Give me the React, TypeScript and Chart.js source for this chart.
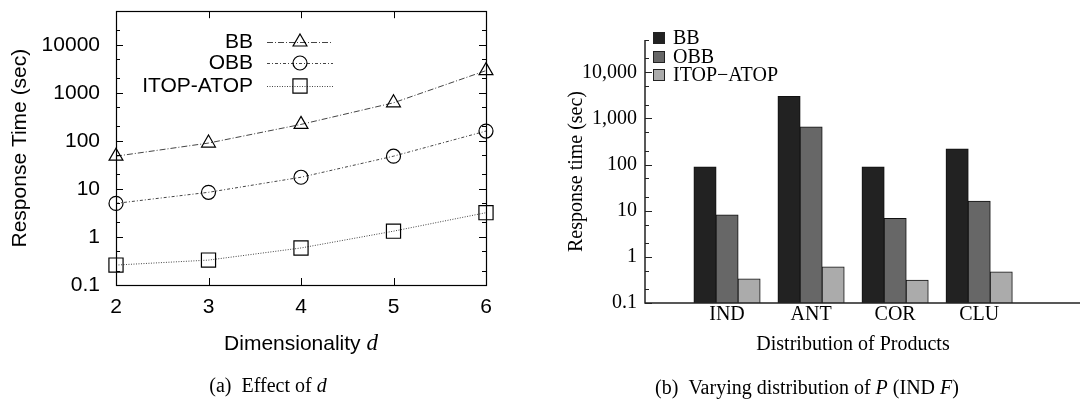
import React, { useEffect, useRef } from 'react';
import { Chart, registerables } from 'chart.js';

Chart.register(...registerables);

// ---------- data ----------
const dims = [2, 3, 4, 5, 6];
const bbTime = [48, 90, 220, 620, 2900];
const obbTime = [5.0, 8.5, 17.5, 48, 160];
const itopTime = [0.26, 0.33, 0.59, 1.32, 3.2];
const lineSeriesNames = ['BB', 'OBB', 'ITOP-ATOP'];

const distributions = ['IND', 'ANT', 'COR', 'CLU'];
const bbDist = [89, 2990, 89, 218];
const obbDist = [8.1, 650, 6.8, 16];
const itopDist = [0.33, 0.6, 0.31, 0.47];
const barSeriesNames = ['BB', 'OBB', 'ITOP\u2212ATOP'];

const yMajorTicks = [0.1, 1, 10, 100, 1000, 10000];
const leftYLabels = ['0.1', '1', '10', '100', '1000', '10000'];
const rightYLabels = ['0.1', '1', '10', '100', '1,000', '10,000'];
const minorMultiples = [2, 5];
const Y_MIN = 0.1;
const Y_MAX = 50000;

const SANS = "'Liberation Sans', Arial, Helvetica, sans-serif";
const SERIF = "'Liberation Serif', 'Times New Roman', Times, serif";

function drawYTicks(ctx: CanvasRenderingContext2D, yScale: any, x: number, dir: number, majorLen: number, minorLen: number) {
  ctx.beginPath();
  for (const v of yMajorTicks) {
    const p = Math.round(yScale.getPixelForValue(v)) + 0.5;
    ctx.moveTo(x, p);
    ctx.lineTo(x + dir * majorLen, p);
    for (const m of minorMultiples) {
      const mv = v * m;
      if (mv <= Y_MAX) {
        const mp = Math.round(yScale.getPixelForValue(mv)) + 0.5;
        ctx.moveTo(x, mp);
        ctx.lineTo(x + dir * minorLen, mp);
      }
    }
  }
  ctx.stroke();
}

function drawMarker(ctx: CanvasRenderingContext2D, style: string, x: number, y: number, r: number) {
  ctx.beginPath();
  if (style === 'triangle') {
    ctx.moveTo(x, y - r);
    ctx.lineTo(x + 0.866 * r, y + 0.5 * r);
    ctx.lineTo(x - 0.866 * r, y + 0.5 * r);
    ctx.closePath();
  } else if (style === 'circle') {
    ctx.arc(x, y, r, 0, Math.PI * 2);
  } else {
    const s = Math.SQRT1_2 * r;
    ctx.rect(x - s, y - s, 2 * s, 2 * s);
  }
  ctx.stroke();
}

const leftFramePlugin = {
  id: 'leftFrame',
  afterDraw(chart: any) {
    const { ctx, chartArea: a, scales } = chart;
    ctx.save();
    ctx.strokeStyle = '#000';
    ctx.lineWidth = 1.2;
    ctx.strokeRect(Math.round(a.left) + 0.5, Math.round(a.top) + 0.5, Math.round(a.right - a.left), Math.round(a.bottom - a.top));
    ctx.lineWidth = 1;
    drawYTicks(ctx, scales.y, a.left, 1, 7, 4);
    drawYTicks(ctx, scales.y, a.right, -1, 7, 4);
    ctx.beginPath();
    for (const d of dims) {
      const px = Math.round(scales.x.getPixelForValue(d)) + 0.5;
      ctx.moveTo(px, a.bottom);
      ctx.lineTo(px, a.bottom - 7);
      ctx.moveTo(px, a.top);
      ctx.lineTo(px, a.top + 7);
    }
    ctx.stroke();

    // legend
    const rows = [42, 63, 86];
    chart.data.datasets.forEach((ds: any, i: number) => {
      const y = rows[i];
      ctx.fillStyle = '#000';
      ctx.font = `21px ${SANS}`;
      ctx.textAlign = 'right';
      ctx.textBaseline = 'middle';
      ctx.fillText(ds.label, 253, y);
      ctx.strokeStyle = ds.borderColor;
      ctx.lineWidth = ds.borderWidth;
      ctx.setLineDash(ds.borderDash);
      ctx.beginPath();
      ctx.moveTo(267, y + 0.5);
      ctx.lineTo(333, y + 0.5);
      ctx.stroke();
      ctx.setLineDash([]);
      ctx.strokeStyle = '#000';
      ctx.lineWidth = ds.pointBorderWidth;
      drawMarker(ctx, ds.pointStyle, 300, y, ds.pointRadius);
    });
    ctx.restore();
  },
};

const rightFramePlugin = {
  id: 'rightFrame',
  afterDraw(chart: any) {
    const { ctx, chartArea: a, scales } = chart;
    ctx.save();
    ctx.strokeStyle = '#222';
    ctx.lineWidth = 1.5;
    ctx.beginPath();
    ctx.moveTo(a.left, a.top);
    ctx.lineTo(a.left, a.bottom);
    ctx.lineTo(a.right, a.bottom);
    ctx.stroke();
    ctx.lineWidth = 1;
    drawYTicks(ctx, scales.y, a.left, 1, 7, 4);

    const rows = [38, 57, 75];
    chart.data.datasets.forEach((ds: any, i: number) => {
      const y = rows[i];
      ctx.fillStyle = ds.backgroundColor;
      ctx.fillRect(113.5, y - 5.5, 11, 11);
      ctx.strokeStyle = '#222';
      ctx.lineWidth = 1;
      ctx.strokeRect(113.5, y - 5.5, 11, 11);
      ctx.fillStyle = '#000';
      ctx.font = `20px ${SERIF}`;
      ctx.textAlign = 'left';
      ctx.textBaseline = 'middle';
      ctx.fillText(ds.label, 133, y + 1);
    });
    ctx.restore();
  },
};

export default function App() {
  const leftRef = useRef<HTMLCanvasElement>(null);
  const rightRef = useRef<HTMLCanvasElement>(null);

  useEffect(() => {
    const lineData = [bbTime, obbTime, itopTime];
    const styles = ['triangle', 'circle', 'rect'];
    const radii = [8, 7, 10];
    const dashes = [[6, 2, 1, 2], [3, 2, 1, 2], [1, 1.5]];

    const left = new Chart(leftRef.current as HTMLCanvasElement, {
      type: 'line',
      data: {
        datasets: lineData.map((vals, k) => ({
          label: lineSeriesNames[k],
          data: dims.map((d, i) => ({ x: d, y: vals[i] })),
          borderColor: '#444',
          borderWidth: 1,
          borderDash: dashes[k],
          pointStyle: styles[k],
          pointRadius: radii[k],
          pointBorderWidth: 1.2,
          pointBorderColor: '#000',
          pointBackgroundColor: 'rgba(0,0,0,0)',
          tension: 0,
          clip: false,
          fill: false,
        })),
      },
      options: {
        animation: false,
        responsive: false,
        events: [],
        layout: { padding: { left: 0, top: 10, right: 54, bottom: 0 } },
        plugins: { legend: { display: false }, tooltip: { enabled: false } },
        scales: {
          x: {
            type: 'linear',
            min: 2,
            max: 6,
            afterBuildTicks: (s: any) => { s.ticks = dims.map((d) => ({ value: d })); },
            afterFit: (s: any) => { s.height = 75; s.paddingLeft = 0; s.paddingRight = 0; },
            grid: { display: false, drawTicks: false },
            border: { display: false },
            ticks: { color: '#000', font: { family: SANS, size: 21 }, padding: 10, autoSkip: false, maxRotation: 0, callback: (v: any) => String(v) },
          },
          y: {
            type: 'logarithmic',
            min: Y_MIN,
            max: Y_MAX,
            afterBuildTicks: (s: any) => { s.ticks = yMajorTicks.map((v) => ({ value: v })); },
            afterFit: (s: any) => { s.width = 116; s.paddingTop = 0; s.paddingBottom = 0; },
            grid: { display: false, drawTicks: false },
            border: { display: false },
            ticks: {
              color: '#000', font: { family: SANS, size: 21 }, padding: 16, autoSkip: false,
              callback: (v: any) => leftYLabels[yMajorTicks.findIndex((t) => Math.abs(t - v) < t * 1e-6)] ?? '',
            },
            title: { display: true, text: 'Response Time (sec)', color: '#000', font: { family: SANS, size: 21 }, padding: { top: 8, bottom: 0 } },
          },
        },
      } as any,
      plugins: [leftFramePlugin],
    });

    const barData = [bbDist, obbDist, itopDist];
    const fills = ['#222222', '#676767', '#ababab'];
    const right = new Chart(rightRef.current as HTMLCanvasElement, {
      type: 'bar',
      data: {
        datasets: barData.map((vals, k) => ({
          label: barSeriesNames[k],
          data: distributions.map((_, i) => ({ x: i, y: vals[i] })),
          backgroundColor: fills[k],
          borderColor: '#111',
          borderWidth: 1,
          borderSkipped: 'bottom',
          inflateAmount: 0.5,
          categoryPercentage: 0.786,
          barPercentage: 1,
        })),
      },
      options: {
        animation: false,
        responsive: false,
        events: [],
        layout: { padding: { left: 0, top: 40, right: 0, bottom: 0 } },
        plugins: { legend: { display: false }, tooltip: { enabled: false } },
        scales: {
          x: {
            type: 'linear',
            offset: false,
            min: -0.976,
            max: 4.2,
            afterBuildTicks: (s: any) => { s.ticks = distributions.map((_, i) => ({ value: i })); },
            afterFit: (s: any) => { s.height = 57; s.paddingLeft = 0; s.paddingRight = 0; },
            grid: { display: false, drawTicks: false, offset: false },
            border: { display: false },
            ticks: { color: '#000', font: { family: SERIF, size: 20 }, padding: 0, autoSkip: false, maxRotation: 0, callback: (v: any) => distributions[Math.round(v)] ?? '' },
          },
          y: {
            type: 'logarithmic',
            min: Y_MIN,
            max: Y_MAX,
            afterBuildTicks: (s: any) => { s.ticks = yMajorTicks.map((v) => ({ value: v })); },
            afterFit: (s: any) => { s.width = 105; s.paddingTop = 0; s.paddingBottom = 0; },
            grid: { display: false, drawTicks: false },
            border: { display: false },
            ticks: {
              color: '#000', font: { family: SERIF, size: 20 }, padding: 8, autoSkip: false,
              callback: (v: any) => rightYLabels[yMajorTicks.findIndex((t) => Math.abs(t - v) < t * 1e-6)] ?? '',
            },
            title: { display: true, text: 'Response time (sec)', color: '#000', font: { family: SERIF, size: 20 }, padding: { top: 25, bottom: 0 } },
          },
        },
      } as any,
      plugins: [rightFramePlugin],
    });

    return () => { left.destroy(); right.destroy(); };
  }, []);

  const centered = (x: number, y: number): React.CSSProperties => ({
    position: 'absolute', left: x, top: y, transform: 'translate(-50%, -50%)', whiteSpace: 'nowrap', color: '#000', lineHeight: 1,
  });

  return (
    <div style={{ position: 'fixed', left: 0, top: 0, width: 1080, height: 400, background: '#fff', overflow: 'hidden' }}>
      <canvas ref={leftRef} width={540} height={360} style={{ position: 'absolute', left: 0, top: 0, width: 540, height: 360 }} />
      <canvas ref={rightRef} width={540} height={360} style={{ position: 'absolute', left: 540, top: 0, width: 540, height: 360 }} />
      <div style={{ ...centered(301, 342), fontFamily: SANS, fontSize: 21 }}>
        Dimensionality <i style={{ fontFamily: SERIF, fontSize: 23 }}>d</i>
      </div>
      <div style={{ ...centered(268, 385), fontFamily: SERIF, fontSize: 20 }}>
        (a)&nbsp;&nbsp;Effect of <i>d</i>
      </div>
      <div style={{ ...centered(853, 343), fontFamily: SERIF, fontSize: 20 }}>
        Distribution of Products
      </div>
      <div style={{ ...centered(807, 387), fontFamily: SERIF, fontSize: 20 }}>
        (b)&nbsp;&nbsp;Varying distribution of <i>P</i> (IND <i>F</i>)
      </div>
    </div>
  );
}
